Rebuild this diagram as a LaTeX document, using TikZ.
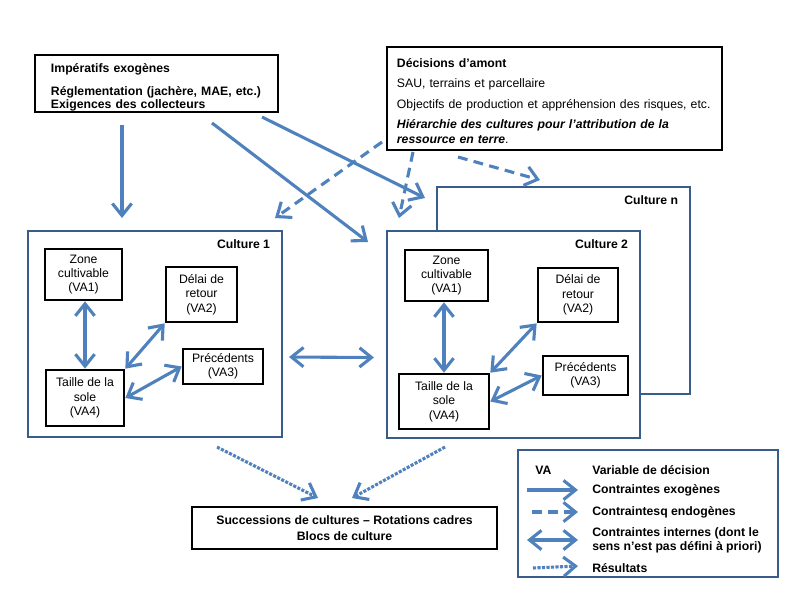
\documentclass[tikz,border=0pt]{standalone}
\usepackage{fontspec}
\setmainfont{Liberation Sans}
\usetikzlibrary{arrows.meta}
\usetikzlibrary{positioning}
\definecolor{arrowblue}{RGB}{79,129,189}
\definecolor{frameblue}{RGB}{56,93,138}

\begin{document}
\begin{tikzpicture}[x=0.025cm,y=-0.025cm,>={Straight Barb[length=3mm,width=4.8mm]},
    font=\fontsize{8.7}{10.2}\selectfont,
    big node/.style={draw,line width=2pt,rectangle,inner ysep=0pt,align=left},
    var node/.style={draw,line width=1.9pt,rectangle,align=center,inner sep=0pt},
    culture frame/.style={draw=frameblue,line width=1.4pt,fill=white,rectangle},
    culture label/.style={anchor=north east,font=\fontsize{8.7}{10.2}\selectfont\bfseries},
    legend text/.style={anchor=west,inner sep=0pt,align=left,font=\fontsize{8.7}{10.2}\selectfont\bfseries},
    exo arrow/.style={->,draw=arrowblue,line width=2.2pt},
    endo arrow/.style={->,draw=arrowblue,line width=2.2pt,dash pattern=on 7pt off 4.5pt},
    int arrow/.style={<->,draw=arrowblue,line width=2.2pt},
    res arrow/.style={->,draw=arrowblue,line width=2.2pt,dash pattern=on 2.2pt off 1pt}]
   \useasboundingbox (0,0) rectangle (800,600);
   % sources
   \node[big node,minimum width=6.075cm,minimum height=1.425cm,text width=5.275cm,inner xsep=0.4cm,
     font=\fontsize{8.7}{9.4}\selectfont\bfseries] (imper) at (156.5,83.5)
     {\rule{0pt}{12pt}Impératifs exogènes\\[7pt] Réglementation (jachère, MAE, etc.)\\ Exigences des collecteurs};
   \node[big node,minimum width=8.375cm,minimum height=2.575cm,text width=7.875cm,inner xsep=0.25cm,
     font=\fontsize{8.7}{10.7}\selectfont] (decis) at (554.5,98.5)
     {\rule{0pt}{10pt}\textbf{Décisions d’amont}\\[3.9pt] SAU, terrains et parcellaire\\[3.9pt]
      Objectifs de production et appréhension des risques, etc.\\[3.9pt]
      \textbf{\textit{Hiérarchie des cultures pour l’attribution de la}}\\ \textbf{\textit{ressource en terre}}.};
   % cultures
   \node[culture frame,minimum width=6.35cm,minimum height=5.15cm] (c1) at (155,334) {};
   \node[culture label] (c1lab) at ([xshift=-0.2cm,yshift=-0.125cm]c1.north east) {Culture 1};
   \node[culture frame,minimum width=6.325cm,minimum height=5.175cm] (cn) at (563.5,290.5) {};
   \node[culture label] (cnlab) at ([xshift=-0.2cm,yshift=-0.125cm]cn.north east) {Culture n};
   \node[culture frame,minimum width=6.325cm,minimum height=5.175cm] (c2) at (513.5,334.5) {};
   \node[culture label] (c2lab) at ([xshift=-0.2cm,yshift=-0.125cm]c2.north east) {Culture 2};
   % variables culture 1
   \node[var node,minimum width=1.925cm,minimum height=1.275cm] (zone1) at (83.5,274.5) {Zone\\cultivable\\(VA1)};
   \node[var node,minimum width=1.775cm,minimum height=1.375cm] (delai1) at (201.5,294.5) {Délai de\\retour\\(VA2)};
   \node[var node,minimum width=2cm,minimum height=0.875cm] (prec1) at (223,366.5) {Précédents\\(VA3)};
   \node[var node,minimum width=1.95cm,minimum height=1.4cm] (taille1) at (85,398) {Taille de la\\sole\\(VA4)};
   % variables culture 2
   \node[var node,minimum width=2.075cm,minimum height=1.275cm] (zone2) at (446.5,275.5) {Zone\\cultivable\\(VA1)};
   \node[var node,minimum width=2cm,minimum height=1.35cm] (delai2) at (578,295) {Délai de\\retour\\(VA2)};
   \node[var node,minimum width=2.125cm,minimum height=0.975cm] (prec2) at (585.5,375.5) {Précédents\\(VA3)};
   \node[var node,minimum width=2.25cm,minimum height=1.375cm] (taille2) at (444,401.5) {Taille de la\\sole\\(VA4)};
   \node[big node,align=center,minimum width=7.625cm,minimum height=1.05cm,
     font=\fontsize{8.7}{11}\selectfont\bfseries] (succ) at (344.5,528)
     {Successions de cultures – Rotations cadres\\Blocs de culture};
   % free ends
   \coordinate (ex1a) at (122,125);
   \coordinate (ex1b) at (122,218);
   \coordinate (ex2a) at (212,123);
   \coordinate (ex2b) at (368,242);
   \coordinate (ex3a) at (262,117);
   \coordinate (ex3b) at (425,198);
   \coordinate (en1a) at (382,142);
   \coordinate (en1b) at (275,218);
   \coordinate (en2a) at (413,152);
   \coordinate (en2b) at (399,218);
   \coordinate (en3a) at (458,157);
   \coordinate (en3b) at (540,180);
   \coordinate (rs1a) at (217,447);
   \coordinate (rs1b) at (318,498);
   \coordinate (rs2a) at (445,447);
   \coordinate (rs2b) at (352,498);
   % arrows
   \draw[exo arrow] (ex1a) -- (ex1b);
   \draw[exo arrow] (ex2a) -- (ex2b);
   \draw[exo arrow] (ex3a) -- (ex3b);
   \draw[endo arrow] (en1a) -- (en1b);
   \draw[endo arrow] (en2a) -- (en2b);
   \draw[endo arrow] (en3a) -- (en3b);
   \draw[int arrow] (taille1.north |- zone1.south) -- (taille1.north);
   \draw[int arrow] (taille1.north east) -- (delai1.south west);
   \draw[int arrow] (taille1.east) -- (prec1.west);
   \draw[int arrow] (taille2.north |- zone2.south) -- (taille2.north);
   \draw[int arrow] (taille2.north east) -- (delai2.south west);
   \draw[int arrow] (taille2.east) -- (prec2.west);
   \draw[int arrow] ([xshift=0.15cm,yshift=-0.575cm]c1.east) -- ([xshift=-0.3cm,yshift=-0.575cm]c2.west);
   \draw[res arrow] (rs1a) -- (rs1b);
   \draw[res arrow] (rs2a) -- (rs2b);
   % legend
   \node[draw=frameblue,line width=1.4pt,minimum width=6.5cm,minimum height=3.175cm] (legend) at (648,513.5) {};
   \node[legend text] (lgva) at (535,470) {VA};
   \node[legend text] (lgvar) at (592,470) {Variable de décision};
   \node[legend text] (lgexo) at (592,490) {Contraintes exogènes};
   \node[legend text] (lgendo) at (592,512) {Contraintesq endogènes};
   \node[legend text] (lgint) at (592,540) {Contraintes internes (dont le\\sens n’est pas défini à priori)};
   \node[legend text] (lgres) at (592,568) {Résultats};
   \draw[exo arrow] ([xshift=-1.625cm]lgexo.west) -- ([xshift=-0.35cm]lgexo.west);
   \draw[endo arrow] ([xshift=-1.5cm]lgendo.west) -- ([xshift=-0.35cm]lgendo.west);
   \draw[int arrow] ([xshift=-1.625cm]lgint.west) -- ([xshift=-0.35cm]lgint.west);
   \draw[res arrow] ([xshift=-1.475cm]lgres.west) -- ([xshift=-0.35cm,yshift=0.05cm]lgres.west);
\end{tikzpicture}
\end{document}
